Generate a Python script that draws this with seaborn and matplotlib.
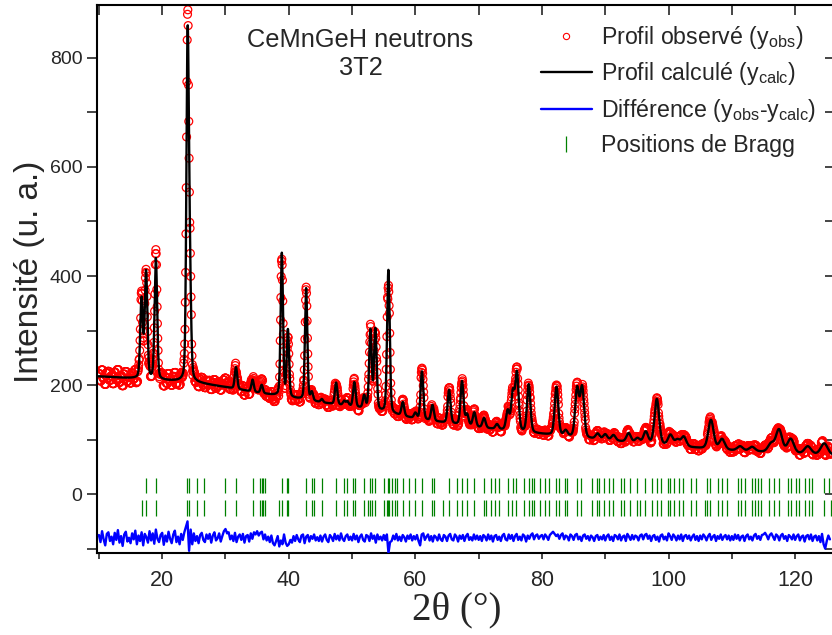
import numpy as np
import pandas as pd
import matplotlib
matplotlib.use("Agg")
import matplotlib.pyplot as plt
import seaborn as sns
from matplotlib.lines import Line2D

# ---------------- data ----------------
# background anchor points (2theta, intensity)
bg_x = [9.7, 17, 22, 26, 30, 35, 40, 45, 50, 55, 60, 65, 70, 75, 80, 85, 90, 95, 100, 105, 110, 115, 120, 126.3]
bg_y = [216, 211, 207, 203, 196, 186, 177, 168, 160, 150, 138, 130, 122, 116, 110, 104, 99, 94, 89, 84, 80, 77, 74, 71]

# calculated peaks: positions (deg) and net heights above background
peak_pos = [16.74, 17.45, 19.00, 24.02, 24.38, 31.66, 34.28, 35.72, 38.90, 39.86,
            42.74, 43.64, 45.22, 47.48, 48.75, 49.27, 50.36, 51.91, 52.90, 53.68,
            55.74, 58.02, 60.00, 61.04, 62.70, 65.33, 67.37, 68.17, 69.32, 70.85,
            72.90, 74.59, 75.40, 76.05, 77.91, 82.30, 83.75, 85.55, 86.35, 88.80,
            90.00, 91.30, 93.70, 95.10, 96.40, 98.15, 100.30, 101.40, 102.40, 106.70,
            108.45, 111.30, 113.20, 116.20, 117.45, 119.30, 122.00, 124.60]
peak_h = [145, 195, 222, 620, 155, 40, 22, 15, 262, 122,
          205, 15, 6, 40, 8, 8, 45, 23, 145, 148,
          262, 25, 10, 88, 29, 61, 80, 20, 26, 18,
          9, 35, 68, 105, 88, 89, 10, 88, 91, 10,
          10, 10, 16, 8, 21, 83, 19, 11, 18, 53,
          19, 8, 8, 15, 42, 26, 14, 21]

# peak width (FWHM) vs angle
fw_x = [10, 25, 40, 60, 80, 100, 126]
fw_y = [0.50, 0.46, 0.43, 0.50, 0.64, 0.88, 1.30]

# residual y_obs - y_calc, every 0.25 deg from 10.0 to 125.5
resid = [
    5, -8, 12, -3, -14, 7, 10, -6, 2, -12, 9, -4, 14, -9, 3, -15, 6, 11, -7, 0,
    -10, 8, -3, 13, -12, 4, -6, 10, -14, 7, 1, -9, 12, -5, 8, -11, 15, -2, -8, 5,
    9, -13, 4, -7, 11, -2, -10, 6, 13, -8, 2, -12, 7, -4, 10, 20, 30, -24, 15, -12,
    8, -6, 3, -10, 5, 9, -4, -8, 6, -2, 7, -9, 4, 10, -5, -1, 8, -7, 3, 12,
    16, 8, 10, -3, 4, -6, 9, -8, 2, 6, -4, 7, -9, 3, 5, -7, 8, -2, 10, 6,
    12, 4, 9, 11, -3, 6, -5, 2, -8, 4, -10, -14, -6, 3, -16, -5, -12, 6, -9, -15,
    -12, -4, -9, 3, -6, 5, -3, -8, 4, 6, -10, 2, 5, -7, 3, -2, 6, -5, 1, -6,
    4, -7, 2, 6, -4, -8, 5, 1, -6, 7, -3, 4, -5, 8, -2, -6, 3, 6, -4, 2,
    -5, 7, -3, 4, -8, 2, 6, -4, -7, 5, 3, -6, 8, -2, 4, -9, 6, -3, 2, -5,
    5, -4, 6, -28, -8, -6, 4, -3, 7, -5, 2, -6, 5, 1, -7, 4, -2, 6, -5, 3,
    -3, 5, -6, -14, 6, 8, -4, 2, 6, -5, 3, -7, 4, 1, -5, 6, -3, -6, 5, 2,
    -6, 4, 7, -3, -5, 6, 2, -7, 4, -2, 5, -6, 3, 7, -4, 1, -5, 6, -3, 4,
    -4, 3, -6, 5, 2, -5, 6, -3, 4, -7, 3, 5, -4, 2, -6, 4, 7, -3, -5, 6,
    -2, 5, -6, 3, 7, -4, 2, -5, 6, 3, -7, 4, -2, 5, 8, -3, 4, 6, -2, 3,
    5, -3, 6, 2, -4, 5, 8, 11, 7, 3, 6, -2, 5, 8, -3, 4, 2, -5, 6, 3,
    -4, 5, 7, -3, 2, -6, 4, 6, -2, 3, -5, 4, 1, -6, 3, 5, -4, 2, -3, 5,
    -5, 3, 6, -4, 2, -6, 5, 3, -3, 6, -5, 2, 4, -6, 7, 2, -4, 5, -3, 4,
    2, -5, 4, 6, -3, 5, 7, -2, 4, -6, 3, 5, -4, 2, -7, 4, 6, -3, 2, -5,
    8, 3, -4, 6, 2, -5, 4, -3, 6, -6, 3, 5, -2, 4, -5, 2, 6, -4, 3, -6,
    4, -3, 6, 2, -5, 3, 7, -4, 2, 5, -6, 3, -2, 6, -4, 2, 5, -3, 4, -5,
    3, -4, 6, -2, 5, -5, 2, 4, -6, 3, 6, -3, 2, -5, 4, 7, -2, 3, -4, 5,
    6, 9, 4, -3, 5, 8, 2, -4, 6, 3, -5, 4, 7, -2, 3, -6, 5, 2, -3, 6,
    -4, 3, 6, -5, 2, 4, -7, 3, 5, -3, 6, -6, 2, 4, -5, 3, -8, 7, -12, -20,
    -6, 4, -3]
diff_offset = -80

# Bragg positions (two rows)
bragg_1 = [17.42, 19.00, 23.96, 24.27, 25.54, 26.60, 29.92, 31.66, 34.30, 35.46, 35.72, 35.98,
           36.25, 38.89, 39.68, 39.94, 42.74, 43.64, 44.00, 45.22, 47.48, 48.75, 49.27, 50.22,
           50.49, 51.91, 52.86, 53.12, 53.65, 55.08, 55.66, 55.87, 56.30, 56.82, 57.09, 58.04,
           58.93, 59.98, 61.04, 62.62, 62.88, 65.25, 66.58, 67.37, 68.16, 69.32, 70.80, 71.96,
           72.64, 73.27, 74.59, 75.44, 75.96, 77.23, 77.91, 78.45, 78.80, 79.76, 80.51, 81.19,
           82.25, 82.77, 83.67, 83.93, 85.51, 86.14, 87.88, 88.67, 88.94, 89.84, 90.52, 91.20,
           92.47, 93.00, 93.84, 95.00, 96.33, 97.38, 98.17, 98.80, 99.86, 100.17, 100.80, 101.60,
           102.28, 103.50, 104.34, 106.14, 106.55, 107.88, 108.40, 109.19, 111.04, 111.41, 112.09,
           113.15, 113.67, 114.20, 114.58, 115.95, 116.68, 117.53, 118.95, 119.32, 120.16, 120.54,
           121.58, 122.12, 122.64, 124.59, 125.28]
bragg_2 = [16.74, 17.42, 19.00, 23.96, 24.27, 25.54, 26.60, 29.92, 31.66, 34.30, 35.46, 35.72,
           35.98, 36.25, 38.52, 38.89, 39.68, 39.94, 42.74, 43.64, 44.00, 45.22, 47.48, 48.75,
           49.27, 50.22, 50.49, 51.91, 52.44, 52.86, 53.12, 53.65, 55.08, 55.50, 55.66, 55.87,
           56.30, 56.82, 57.09, 58.04, 58.93, 59.98, 61.04, 62.62, 62.88, 64.36, 65.25, 66.58,
           67.37, 68.16, 69.32, 70.80, 71.22, 71.96, 72.64, 73.27, 74.59, 75.28, 75.96, 77.23,
           77.91, 78.45, 78.80, 79.76, 80.51, 81.19, 82.25, 82.77, 83.67, 83.93, 85.51, 86.14,
           87.88, 88.67, 88.94, 89.84, 90.52, 91.20, 92.47, 93.00, 93.84, 95.00, 95.53, 96.33,
           97.38, 98.17, 98.80, 99.86, 100.17, 100.80, 101.60, 102.28, 103.50, 104.34, 105.76,
           106.14, 106.55, 107.88, 108.40, 109.19, 111.04, 111.41, 112.09, 113.15, 113.67, 114.20,
           114.58, 115.95, 116.68, 117.53, 118.95, 119.32, 120.16, 120.54, 121.58, 122.12, 122.64,
           124.59, 125.65]
bragg_rows = [(bragg_1, 2, 29), (bragg_2, -40, -11)]

title_text = "CeMnGeH neutrons\n3T2"
labels = ["Profil observé (y$_{\\mathrm{obs}}$)",
          "Profil calculé (y$_{\\mathrm{calc}}$)",
          "Différence (y$_{\\mathrm{obs}}$-y$_{\\mathrm{calc}}$)",
          "Positions de Bragg"]

# ---------------- profile model ----------------
def profile(x):
    x = np.asarray(x, dtype=float)
    y = np.interp(x, bg_x, bg_y)
    eta = 0.25
    for p, h in zip(peak_pos, peak_h):
        w = np.interp(p, fw_x, fw_y)
        d = ((x - p) / w) ** 2
        y = y + h * (eta / (1 + 4 * d) + (1 - eta) * np.exp(-4 * np.log(2) * d))
    return y

x_calc = np.arange(9.7, 126.3, 0.02)
calc_df = pd.DataFrame({"x": x_calc, "y": profile(x_calc)})

x_r = 10.0 + 0.25 * np.arange(len(resid))
x_obs = (x_r[:, None] + 0.05 * np.arange(-2, 3)[None, :]).ravel()
res_obs = np.repeat(np.asarray(resid, float), 5)
obs_df = pd.DataFrame({"x": x_obs, "y": profile(x_obs) + res_obs})
diff_df = pd.DataFrame({"x": x_r, "y": diff_offset + np.asarray(resid, float)})

# ---------------- drawing ----------------
sns.set_theme(style="ticks")
plt.rcParams["font.family"] = ["Liberation Sans", "DejaVu Sans"]
plt.rcParams["mathtext.fontset"] = "custom"
plt.rcParams["mathtext.rm"] = "Liberation Sans"
plt.rcParams["mathtext.it"] = "Liberation Sans:italic"

fig = plt.figure(figsize=(8.32, 6.35), dpi=100)
ax = fig.add_axes([97 / 832, 1 - 553 / 635, 738 / 832, 548 / 635])

sns.scatterplot(data=obs_df, x="x", y="y", ax=ax, marker="o", s=32,
                facecolor="none", edgecolor="red", linewidth=0.9, zorder=2, legend=False)
sns.lineplot(data=calc_df, x="x", y="y", ax=ax, color="black", linewidth=1.7,
             estimator=None, sort=False, zorder=3, legend=False)
sns.lineplot(data=diff_df, x="x", y="y", ax=ax, color="#0000ff", linewidth=1.7,
             estimator=None, sort=False, zorder=3, legend=False)
for pos, y0, y1 in bragg_rows:
    ax.vlines(pos, y0, y1, color="#008000", linewidth=0.9, zorder=2)

ax.set_xlim(9.7, 126.3)
ax.set_ylim(-108, 897)
ax.set_xticks([20, 40, 60, 80, 100, 120])
ax.set_xticks(np.arange(10, 126, 10), minor=True)
ax.set_yticks([0, 200, 400, 600, 800])
ax.set_yticks(np.arange(-100, 900, 100), minor=True)
ax.tick_params(axis="x", which="major", direction="out", length=4.5, width=1.2, labelsize=15.5, pad=8)
ax.tick_params(axis="x", which="minor", direction="out", length=4.5, width=1.2)
ax.tick_params(axis="y", which="major", direction="out", length=7, width=1.2, labelsize=14)
ax.tick_params(axis="y", which="minor", direction="out", length=7, width=1.2)
for s in ax.spines.values():
    s.set_linewidth(1.5)
    s.set_color("black")

top = ax.secondary_xaxis("top")
top.set_xticks([20, 40, 60, 80, 100, 120])
top.set_xticks(np.arange(10, 126, 10), minor=True)
top.tick_params(which="both", direction="in", length=7, width=1.2, labeltop=False)
right = ax.secondary_yaxis("right")
right.set_yticks([0, 200, 400, 600, 800])
right.set_yticks(np.arange(-100, 900, 100), minor=True)
right.tick_params(which="both", direction="in", length=7, width=1.2, labelright=False)

ax.set_xlabel("2θ (°)", fontsize=28, family=["Liberation Serif", "DejaVu Serif"])
ax.xaxis.set_label_coords(0.488, -0.071)
ax.set_ylabel("Intensité (u. a.)", fontsize=24)
ax.yaxis.set_label_coords(-0.071, 0.514)

ax.text(0.357, 0.9106, title_text, transform=ax.transAxes, ha="center", va="center",
        fontsize=18.3, linespacing=1.25)

handles = [
    Line2D([], [], linestyle="none", marker="o", markersize=4.5, markerfacecolor="none",
           markeredgecolor="red", markeredgewidth=0.8),
    Line2D([], [], color="black", linewidth=1.7),
    Line2D([], [], color="#0000ff", linewidth=1.7),
    Line2D([], [], linestyle="none", marker="|", markersize=12, markeredgecolor="#008000",
           markeredgewidth=0.9),
]
ax.legend(handles, labels, loc="upper left", bbox_to_anchor=(0.601, 0.966), frameon=False,
          fontsize=16.7, handlelength=2.2, handletextpad=0.4, labelspacing=0.42, borderpad=0,
          borderaxespad=0)

fig.savefig("out.png", dpi=100)
